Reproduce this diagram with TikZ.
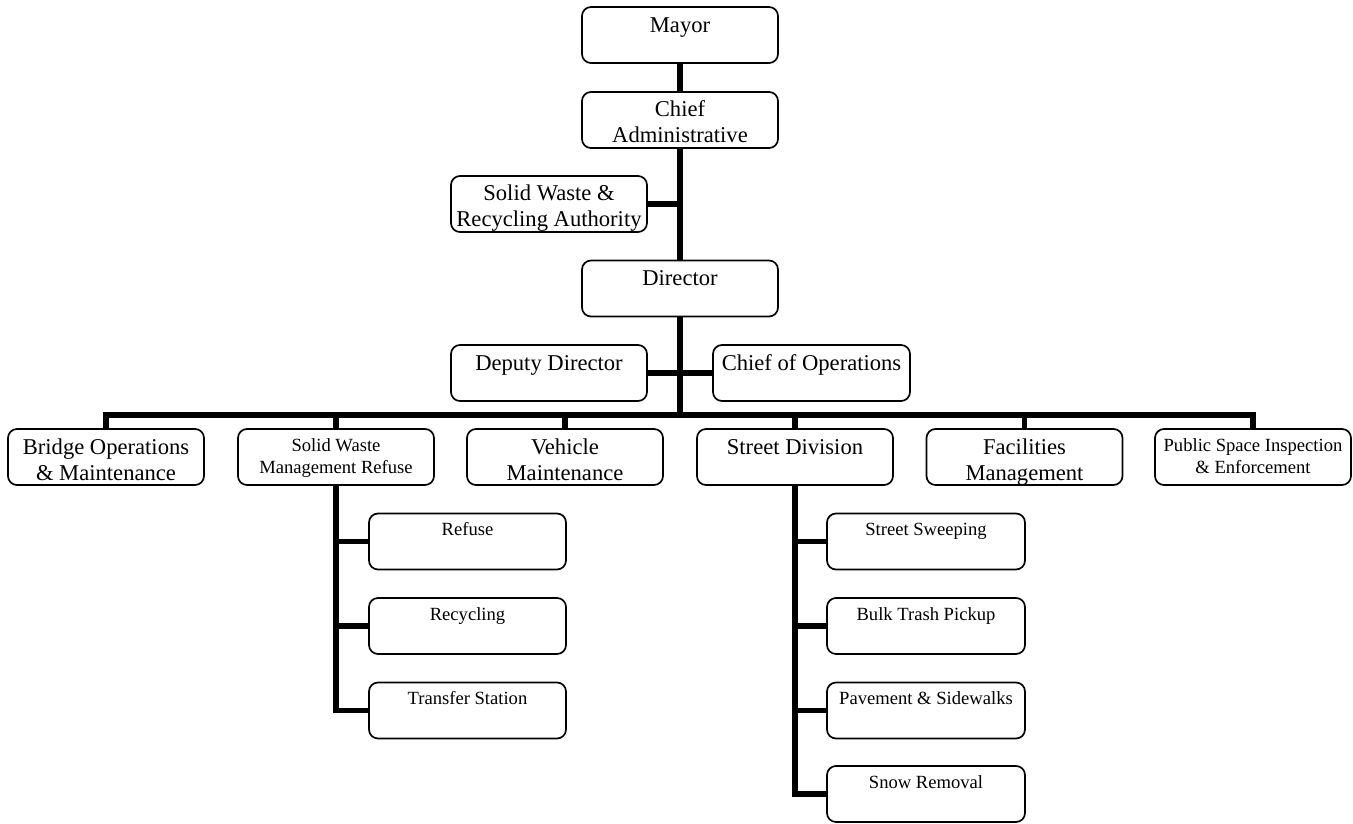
\documentclass[tikz,border=0pt]{standalone}
\usepackage{fontspec}
\setmainfont{Liberation Serif}
\usetikzlibrary{backgrounds}
\newcommand{\bxt}[4]{\parbox[c][#1][t]{#2}{\centering\rule{0pt}{#3}#4\par}}
\tikzset{
  orgbox/.style={draw, line width=1.7pt, rounded corners=9pt, fill=white, inner sep=0pt, outer sep=0pt},
  bigtext/.style={font=\fontsize{22.6}{26}\selectfont},
  smalltext/.style={font=\fontsize{18.6}{22}\selectfont},
  link/.style={line width=5.5pt}
}
\begin{document}
\begin{tikzpicture}[x=1pt,y=-1pt]
\useasboundingbox (0,0) rectangle (1353,823);
% top chain
\node[orgbox,bigtext] (mayor) at (680,35) {\bxt{56pt}{196pt}{25pt}{Mayor}};
\node[orgbox,bigtext] (cao) at (680,120) {\bxt{56pt}{196pt}{24.5pt}{Chief\\Administrative}};
\node[orgbox,bigtext] (swra) at (549,204) {\bxt{56pt}{196pt}{24.5pt}{Solid Waste \&\\Recycling Authority}};
\node[orgbox,bigtext] (dir) at (680,288.5) {\bxt{56pt}{196pt}{24.5pt}{Director}};
\node[orgbox,bigtext] (dep) at (549,373) {\bxt{56pt}{196pt}{25pt}{Deputy Director}};
\node[orgbox,bigtext] (coo) at (811.5,373) {\bxt{56pt}{197pt}{25pt}{Chief of Operations}};
% division row
\node[orgbox,bigtext] (bridge) at (106,457) {\bxt{56pt}{196pt}{25pt}{Bridge Operations\\\& Maintenance}};
\node[orgbox,smalltext] (swm) at (336,457) {\bxt{56pt}{196pt}{22pt}{Solid Waste\\Management Refuse}};
\node[orgbox,bigtext] (veh) at (565,457) {\bxt{56pt}{196pt}{25pt}{Vehicle\\Maintenance}};
\node[orgbox,bigtext] (street) at (795,457) {\bxt{56pt}{196pt}{25pt}{Street Division}};
\node[orgbox,bigtext] (fac) at (1024.5,457) {\bxt{56pt}{196pt}{25pt}{Facilities\\Management}};
\node[orgbox,smalltext] (pub) at (1253,457) {\bxt{56pt}{196pt}{22pt}{Public Space Inspection\\\& Enforcement}};
% solid waste units
\node[orgbox,smalltext] (refuse) at (467.5,541.5) {\bxt{56pt}{197pt}{22pt}{Refuse}};
\node[orgbox,smalltext] (recyc) at (467.5,626) {\bxt{56pt}{197pt}{22pt}{Recycling}};
\node[orgbox,smalltext] (transfer) at (467.5,710.5) {\bxt{56pt}{197pt}{22pt}{Transfer Station}};
% street units
\node[orgbox,smalltext] (sweep) at (926,541.5) {\bxt{56pt}{198pt}{22pt}{Street Sweeping}};
\node[orgbox,smalltext] (bulk) at (926,626) {\bxt{56pt}{198pt}{22pt}{Bulk Trash Pickup}};
\node[orgbox,smalltext] (pave) at (926,710.5) {\bxt{56pt}{198pt}{22pt}{Pavement \& Sidewalks}};
\node[orgbox,smalltext] (snow) at (926,794) {\bxt{56pt}{198pt}{22pt}{Snow Removal}};
\coordinate (bus) at (0,415);
\begin{scope}[on background layer]
  \draw[link] (mayor.south) -- (cao.north);
  \draw[link] (cao.south) -- (dir.north);
  \draw[link] (swra.east) -- (swra.east -| dir.north);
  \draw[link] (dir.south) -- (dir.south |- bus);
  \draw[link] (dep.east) -- (dep.east -| dir.south);
  \draw[link] (coo.west) -- (coo.west -| dir.south);
  \draw[link] (bridge.north) -- (bridge.north |- bus) -- (pub.north |- bus) -- (pub.north);
  \draw[link] (swm.north) -- (swm.north |- bus);
  \draw[link] (veh.north) -- (veh.north |- bus);
  \draw[link] (street.north) -- (street.north |- bus);
  \draw[link] (fac.north) -- (fac.north |- bus);
  \draw[link] (swm.south) |- (transfer.west);
  \draw[link] (refuse.west) -- (refuse.west -| swm.south);
  \draw[link] (recyc.west) -- (recyc.west -| swm.south);
  \draw[link] (street.south) |- (snow.west);
  \draw[link] (sweep.west) -- (sweep.west -| street.south);
  \draw[link] (bulk.west) -- (bulk.west -| street.south);
  \draw[link] (pave.west) -- (pave.west -| street.south);
\end{scope}
\end{tikzpicture}
\end{document}
